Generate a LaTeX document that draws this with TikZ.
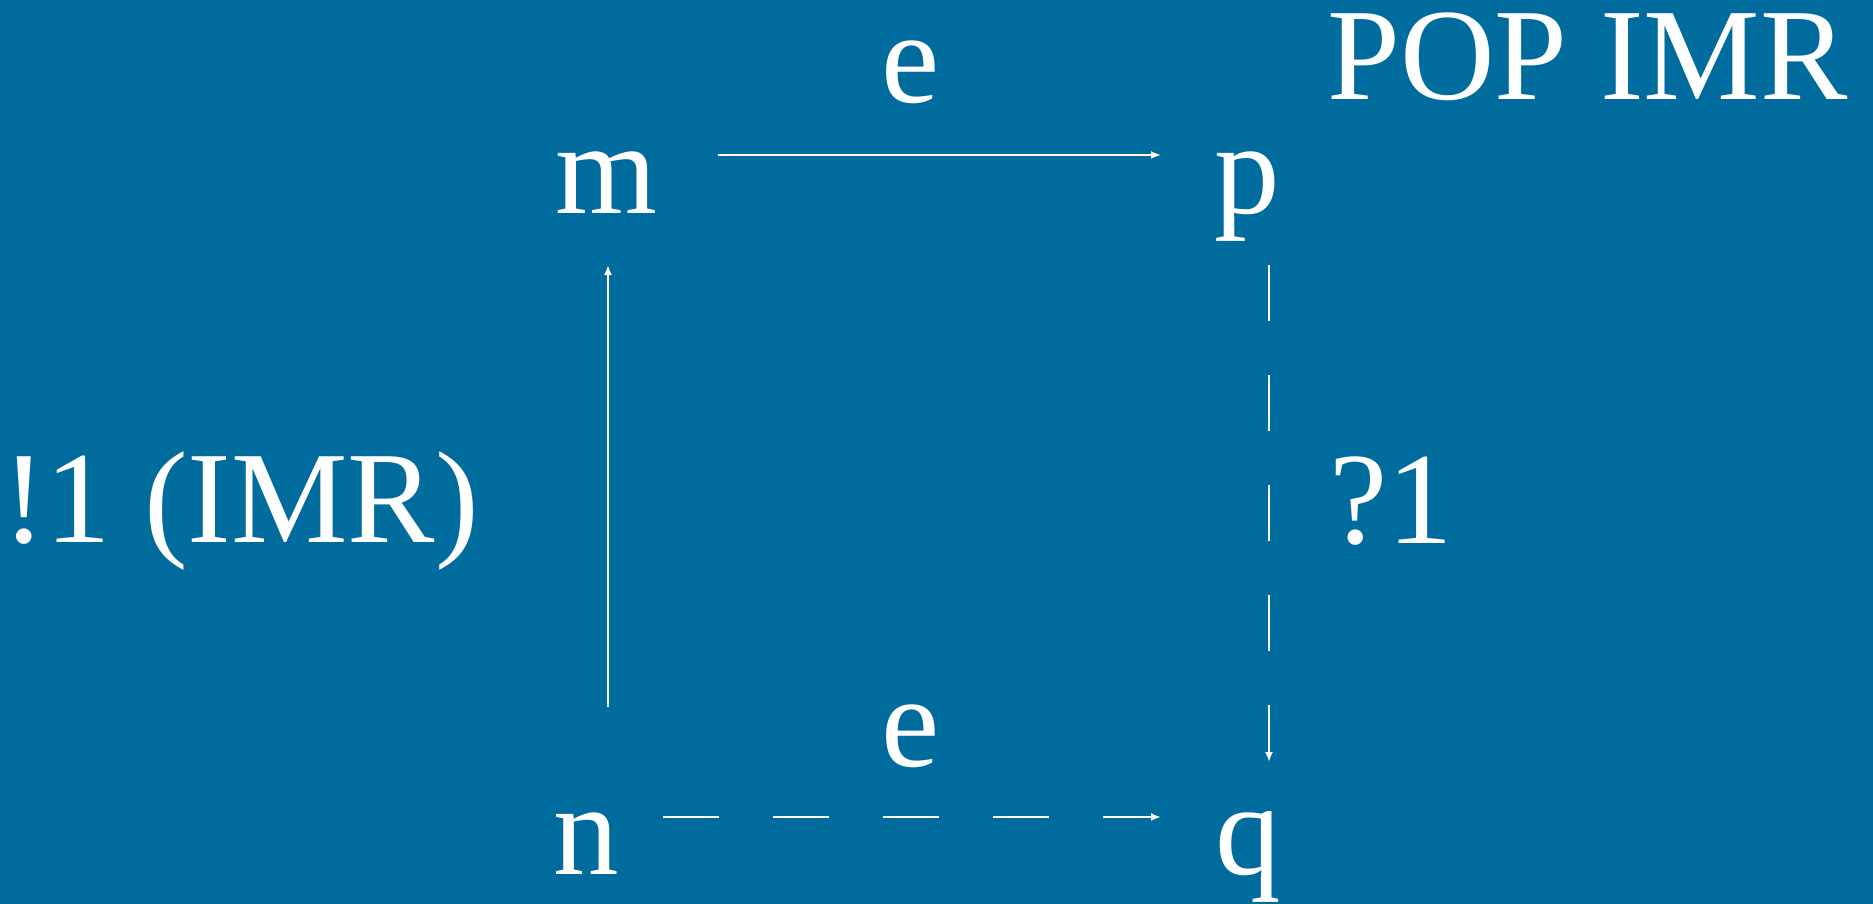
\documentclass[tikz,border=0pt]{standalone}
\usepackage{fontspec}
\setmainfont{Liberation Serif}
\usetikzlibrary{arrows.meta}
\definecolor{bg}{RGB}{0,108,158}
\begin{document}
\begin{tikzpicture}[x=1pt,y=-1pt,
  lbl/.style={text=white,inner sep=0pt,anchor=base,font=\fontsize{131}{140}\selectfont},
  conn/.style={draw=white,line width=2.2pt,-{Latex[length=10pt,width=8pt]}},
  dashline/.style={dash pattern=on 56pt off 54pt}]
\fill[bg] (0,0) rectangle (1873,904);
\useasboundingbox (0,0) rectangle (1873,904);
\node[lbl] (m) at (606,213) {m};
\node[lbl] (p) at (1247,213) {p};
\node[lbl] (n) at (586,874) {n};
\node[lbl] (q) at (1248,874) {q};
\node[lbl] (e1) at (911,103) {e};
\node[lbl] (e2) at (911,766) {e};
\node[lbl,anchor=base west] (title) at (1327,100) {POP IMR};
\node[lbl,anchor=base west] (l1) at (2,542) {!1 (IMR)};
\node[lbl,anchor=base west] (r1) at (1329,543) {?1};
\coordinate (mR) at (718,155);
\coordinate (pL) at (1161,155);
\coordinate (nT) at (608,707);
\coordinate (mB) at (608,265);
\coordinate (pB) at (1269,265);
\coordinate (qT) at (1269,762);
\coordinate (nR) at (663,817);
\coordinate (qL) at (1161,817);
\draw[conn] (mR) -- (pL);
\draw[conn] (nT) -- (mB);
\draw[conn,dashline] (pB) -- (qT);
\draw[conn,dashline] (nR) -- (qL);
\end{tikzpicture}
\end{document}
